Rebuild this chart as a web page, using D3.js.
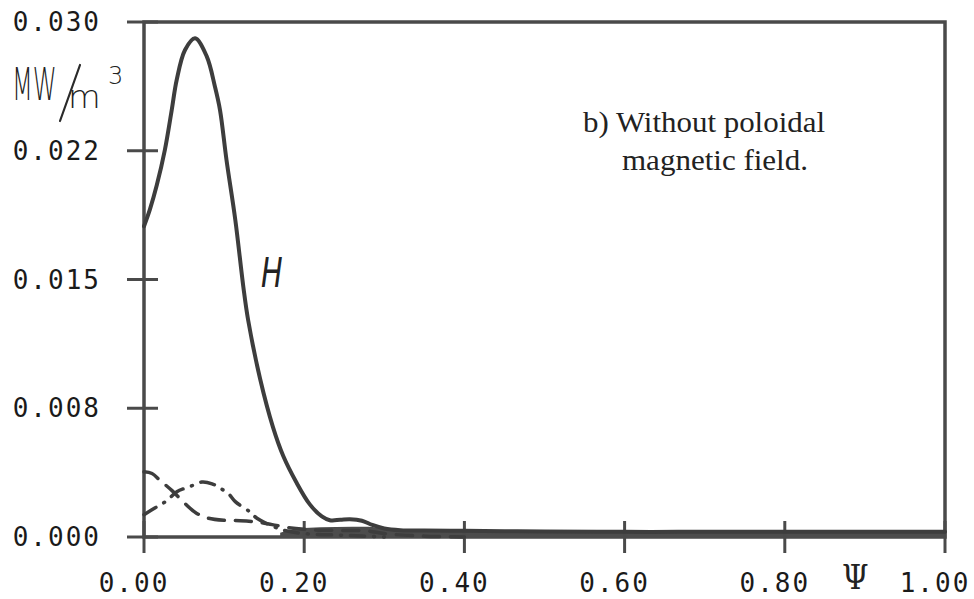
<!DOCTYPE html>
<html lang="en">
<head>
  <meta charset="UTF-8" />
  <title>Power density profile</title>
  <style>
    html, body {
      margin: 0; padding: 0;
      background: #fff;
      overflow: hidden;
    }
    svg { display: block; }
    .tick-label {
      font-family: "DejaVu Sans Mono", monospace;
      font-size: 26px;
      letter-spacing: 2px;
      fill: #1a1a1a;
    }
    .hand {
      font-family: "DejaVu Sans", sans-serif;
      font-weight: 300;
      fill: #222;
    }
    .note {
      font-family: "Liberation Serif", serif;
      font-size: 30px;
      fill: #222;
    }
    .frame { stroke: #4a4a4a; stroke-width: 3.5; fill: none; }
    .curve { fill: none; stroke: #3d3d3d; stroke-linecap: round; }
  </style>
</head>
<body>
  <svg width="974" height="599"></svg>

  <script src="https://d3js.org/d3.v7.min.js"></script>
  <script>
    // tick values and their printed labels
    const yTicks = [0, 0.0075, 0.015, 0.0225, 0.030];
    const yTickLabels = ["0.000", "0.008", "0.015", "0.022", "0.030"];
    const xTicks = [0, 0.2, 0.4, 0.6, 0.8, 1.0];
    const xTickLabels = ["0.00", "0.20", "0.40", "0.60", "0.80", "1.00"];

    // solid curve H
    const hPsi = [0, 0.0075, 0.016, 0.026, 0.0346, 0.0408, 0.0512, 0.0637, 0.0782, 0.0886, 0.0949,
      0.103, 0.114, 0.124, 0.130, 0.145, 0.161, 0.174, 0.19, 0.207, 0.222, 0.232, 0.245, 0.257,
      0.272, 0.285, 0.30, 0.32, 0.35, 0.40, 0.45, 0.50, 0.60, 0.70, 0.80, 0.90, 1.0];
    const hVal = [0.0181, 0.0191, 0.0205, 0.02254, 0.02487, 0.02662, 0.02837, 0.02905, 0.02801,
      0.02623, 0.02487, 0.02196, 0.01847, 0.01458, 0.01264, 0.0092, 0.0064, 0.0047, 0.0032, 0.0019,
      0.0012, 0.00098, 0.001, 0.00103, 0.00095, 0.0007, 0.0005, 0.0004, 0.00038, 0.00036, 0.00034,
      0.00032, 0.0003, 0.0003, 0.0003, 0.0003, 0.0003];

    // dark shaded band along the axis where the curves pile up
    const bandPsi = [0.17, 0.2, 0.24, 0.28, 0.30, 0.33, 0.36, 0.40, 0.45, 0.5, 0.6, 0.7, 0.8, 0.9, 1.0];
    const bandVal = [0.00025, 0.00052, 0.00058, 0.0006, 0.0005, 0.00042, 0.00038, 0.00036, 0.00034,
      0.00032, 0.0003, 0.0003, 0.0003, 0.0003, 0.0003];

    // dashed curve
    const dashPsi = [0, 0.01, 0.02, 0.035, 0.05, 0.065, 0.08, 0.1, 0.12, 0.14, 0.16, 0.18, 0.2,
      0.22, 0.25, 0.28, 0.3, 0.35, 0.4];
    const dashVal = [0.0038, 0.0037, 0.0033, 0.0027, 0.002, 0.0014, 0.0011, 0.00097, 0.00095,
      0.00088, 0.00072, 0.00055, 0.00045, 0.0004, 0.00038, 0.00035, 0.0002, 0.00005, 0];

    // dash-dot curve
    const dotPsi = [0, 0.014, 0.028, 0.041, 0.057, 0.072, 0.085, 0.095, 0.105, 0.114, 0.132,
      0.141, 0.157, 0.174, 0.2, 0.25, 0.3];
    const dotVal = [0.0013, 0.0017, 0.0021, 0.00264, 0.00293, 0.0032, 0.0031, 0.00284, 0.00255,
      0.00206, 0.00147, 0.00109, 0.0007, 0.0004, 0.0002, 0.0001, 0];

    const margin = { top: 22, right: 29, bottom: 62, left: 144 };
    const width = 974, height = 599;

    const svg = d3.select("svg");

    const x = d3.scaleLinear().domain([0, 1]).range([margin.left, width - margin.right]);
    const y = d3.scaleLinear().domain([0, 0.030]).range([height - margin.bottom, margin.top]);

    const line = d3.line()
      .x(d => x(d[0]))
      .y(d => y(d[1]))
      .curve(d3.curveCatmullRom.alpha(0.5));

    const band = d3.area()
      .x(d => x(d[0]))
      .y0(y(0) + 1)
      .y1(d => y(d[1]))
      .curve(d3.curveMonotoneX);

    // frame
    svg.append("rect")
      .attr("class", "frame")
      .attr("x", x(0)).attr("y", y(0.030))
      .attr("width", x(1) - x(0)).attr("height", y(0) - y(0.030));

    svg.append("path")
      .attr("fill", "#4c4c4c")
      .attr("d", band(d3.zip(bandPsi, bandVal)));

    // y ticks crossing the axis
    svg.append("g")
      .selectAll("line")
      .data(yTicks)
      .join("line")
      .attr("x1", x(0) - 17).attr("x2", x(0) + 14)
      .attr("y1", d => y(d)).attr("y2", d => y(d))
      .attr("stroke", "#4a4a4a").attr("stroke-width", 3);

    // x ticks crossing the axis
    svg.append("g")
      .selectAll("line")
      .data(xTicks)
      .join("line")
      .attr("x1", d => x(d)).attr("x2", d => x(d))
      .attr("y1", y(0) - 16).attr("y2", y(0) + 16)
      .attr("stroke", "#4a4a4a").attr("stroke-width", 3);

    svg.append("g")
      .selectAll("text")
      .data(yTicks)
      .join("text")
      .attr("class", "tick-label")
      .attr("x", 101)
      .attr("y", d => y(d))
      .attr("text-anchor", "end")
      .attr("dominant-baseline", "central")
      .text((d, i) => yTickLabels[i]);

    svg.append("g")
      .selectAll("text")
      .data(xTicks)
      .join("text")
      .attr("class", "tick-label")
      .attr("x", d => x(d) - 10)
      .attr("y", 592)
      .attr("text-anchor", "middle")
      .text((d, i) => xTickLabels[i]);

    // curves
    svg.append("path")
      .attr("class", "curve")
      .attr("stroke-width", 3.5)
      .attr("stroke-dasharray", "16 11")
      .attr("d", line(d3.zip(dashPsi, dashVal)));

    svg.append("path")
      .attr("class", "curve")
      .attr("stroke-width", 3.5)
      .attr("stroke-dasharray", "14 9 1 9")
      .attr("d", line(d3.zip(dotPsi, dotVal)));

    svg.append("path")
      .attr("class", "curve")
      .attr("stroke-width", 4)
      .attr("d", line(d3.zip(hPsi, hVal)));

    // unit label, handwritten look (squeezed horizontally)
    svg.append("g")
      .attr("transform", "translate(12,100) scale(0.55,1)")
      .append("text").attr("class", "hand")
      .attr("font-size", 44)
      .text("MW");
    svg.append("line")
      .attr("x1", 80).attr("y1", 65).attr("x2", 60).attr("y2", 121)
      .attr("stroke", "#2a2a2a").attr("stroke-width", 2.2).attr("stroke-linecap", "round");
    svg.append("g")
      .attr("transform", "translate(68,108) scale(1.05,1)")
      .append("text").attr("class", "hand")
      .attr("font-size", 32)
      .text("m");
    svg.append("text").attr("class", "hand")
      .attr("x", 108).attr("y", 84)
      .attr("font-size", 24)
      .text("3");

    svg.append("g")
      .attr("transform", "translate(261,287) scale(0.72,1)")
      .append("text").attr("class", "hand")
      .attr("font-size", 40)
      .attr("font-style", "italic")
      .text("H");

    svg.append("g")
      .attr("transform", "translate(842,589) scale(0.92,1)")
      .append("text")
      .attr("font-family", "DejaVu Serif, serif")
      .attr("font-size", 33)
      .attr("fill", "#222")
      .text("Ψ");

    // annotation
    svg.append("text").attr("class", "note")
      .attr("x", 583).attr("y", 132)
      .attr("textLength", 242).attr("lengthAdjust", "spacingAndGlyphs")
      .text("b) Without poloidal");
    svg.append("text").attr("class", "note")
      .attr("x", 622).attr("y", 170)
      .attr("textLength", 186).attr("lengthAdjust", "spacingAndGlyphs")
      .text("magnetic field.");
  </script>
</body>
</html>
